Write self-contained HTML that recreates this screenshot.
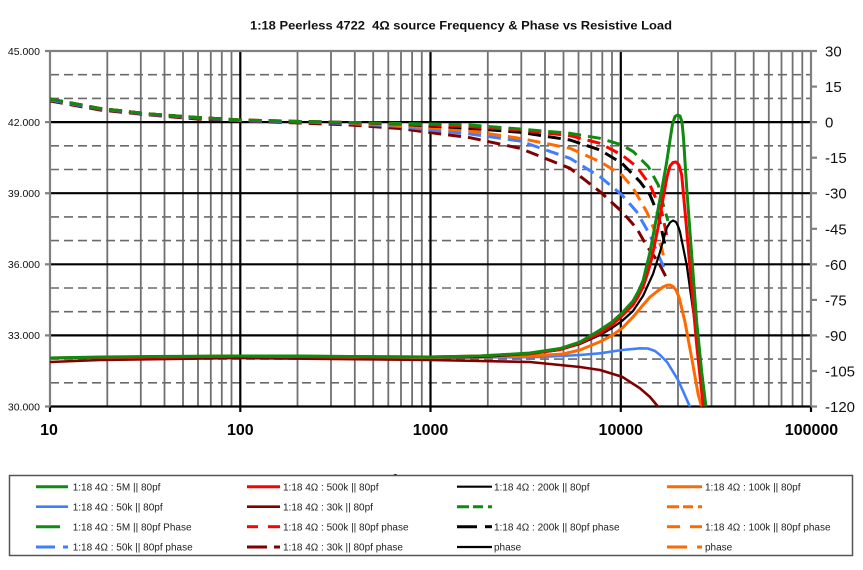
<!DOCTYPE html>
<html><head><meta charset="utf-8"><style>
html,body{margin:0;padding:0;background:#fff;}
svg{display:block;}
text{font-family:"Liberation Sans",Arial,sans-serif;}
</style></head><body>
<svg width="863" height="570" viewBox="0 0 863 570" xmlns="http://www.w3.org/2000/svg">
<rect x="0" y="0" width="863" height="570" fill="#fff"/>
<text x="461" y="29.5" font-size="12" font-weight="bold" text-anchor="middle" fill="#111" textLength="422" lengthAdjust="spacingAndGlyphs">1:18 Peerless 4722&#160;&#160;4Ω source Frequency &amp; Phase vs Resistive Load</text>

<!-- horizontal dashed gridlines -->
<g stroke="#6a6a6a" stroke-width="1.6" stroke-dasharray="9 5" fill="none">
<line x1="50" y1="74.7" x2="811" y2="74.7"/><line x1="50" y1="98.4" x2="811" y2="98.4"/>
<line x1="50" y1="145.8" x2="811" y2="145.8"/><line x1="50" y1="169.5" x2="811" y2="169.5"/>
<line x1="50" y1="216.9" x2="811" y2="216.9"/><line x1="50" y1="240.6" x2="811" y2="240.6"/>
<line x1="50" y1="288.0" x2="811" y2="288.0"/><line x1="50" y1="311.7" x2="811" y2="311.7"/>
<line x1="50" y1="359.1" x2="811" y2="359.1"/><line x1="50" y1="382.8" x2="811" y2="382.8"/>
</g>
<!-- vertical minor gridlines -->
<g stroke="#707070" stroke-width="1.8">
<line x1="107.3" y1="51" x2="107.3" y2="406.5"/><line x1="140.8" y1="51" x2="140.8" y2="406.5"/><line x1="164.5" y1="51" x2="164.5" y2="406.5"/><line x1="183" y1="51" x2="183" y2="406.5"/><line x1="198" y1="51" x2="198" y2="406.5"/><line x1="210.8" y1="51" x2="210.8" y2="406.5"/><line x1="221.8" y1="51" x2="221.8" y2="406.5"/><line x1="231.5" y1="51" x2="231.5" y2="406.5"/>
<line x1="297.5" y1="51" x2="297.5" y2="406.5"/><line x1="331" y1="51" x2="331" y2="406.5"/><line x1="354.8" y1="51" x2="354.8" y2="406.5"/><line x1="373.2" y1="51" x2="373.2" y2="406.5"/><line x1="388.3" y1="51" x2="388.3" y2="406.5"/><line x1="401" y1="51" x2="401" y2="406.5"/><line x1="412.1" y1="51" x2="412.1" y2="406.5"/><line x1="421.8" y1="51" x2="421.8" y2="406.5"/>
<line x1="487.8" y1="51" x2="487.8" y2="406.5"/><line x1="521.3" y1="51" x2="521.3" y2="406.5"/><line x1="545" y1="51" x2="545" y2="406.5"/><line x1="563.5" y1="51" x2="563.5" y2="406.5"/><line x1="578.5" y1="51" x2="578.5" y2="406.5"/><line x1="591.3" y1="51" x2="591.3" y2="406.5"/><line x1="602.3" y1="51" x2="602.3" y2="406.5"/><line x1="612" y1="51" x2="612" y2="406.5"/>
<line x1="678" y1="51" x2="678" y2="406.5"/><line x1="711.5" y1="51" x2="711.5" y2="406.5"/><line x1="735.3" y1="51" x2="735.3" y2="406.5"/><line x1="753.7" y1="51" x2="753.7" y2="406.5"/><line x1="768.8" y1="51" x2="768.8" y2="406.5"/><line x1="781.5" y1="51" x2="781.5" y2="406.5"/><line x1="792.6" y1="51" x2="792.6" y2="406.5"/><line x1="802.3" y1="51" x2="802.3" y2="406.5"/>
</g>
<!-- major lines -->
<g stroke="#000" stroke-width="2.2">
<line x1="240.3" y1="51" x2="240.3" y2="412"/><line x1="430.5" y1="51" x2="430.5" y2="412"/><line x1="620.8" y1="51" x2="620.8" y2="412"/>
<line x1="50" y1="122.1" x2="811" y2="122.1"/><line x1="50" y1="193.2" x2="811" y2="193.2"/><line x1="50" y1="264.3" x2="811" y2="264.3"/><line x1="50" y1="335.4" x2="811" y2="335.4"/>
<line x1="49" y1="406.5" x2="812" y2="406.5"/>
<line x1="50" y1="406.5" x2="50" y2="412"/><line x1="811" y1="406.5" x2="811" y2="412"/>
</g>
<!-- border -->
<g stroke="#808080" stroke-width="2.2" fill="none">
<line x1="50" y1="51" x2="811" y2="51"/>
<line x1="50" y1="51" x2="50" y2="406.5"/>
<line x1="811" y1="51" x2="811" y2="406.5"/>
<line x1="45" y1="51" x2="50" y2="51"/><line x1="45" y1="122.1" x2="50" y2="122.1"/><line x1="45" y1="193.2" x2="50" y2="193.2"/><line x1="45" y1="264.3" x2="50" y2="264.3"/><line x1="45" y1="335.4" x2="50" y2="335.4"/><line x1="45" y1="406.5" x2="50" y2="406.5"/>
<line x1="811" y1="51" x2="817" y2="51"/><line x1="811" y1="86.6" x2="817" y2="86.6"/><line x1="811" y1="122.1" x2="817" y2="122.1"/><line x1="811" y1="157.7" x2="817" y2="157.7"/><line x1="811" y1="193.2" x2="817" y2="193.2"/><line x1="811" y1="228.8" x2="817" y2="228.8"/><line x1="811" y1="264.3" x2="817" y2="264.3"/><line x1="811" y1="299.9" x2="817" y2="299.9"/><line x1="811" y1="335.4" x2="817" y2="335.4"/><line x1="811" y1="371" x2="817" y2="371"/><line x1="811" y1="406.5" x2="817" y2="406.5"/>
</g>

<!-- left labels -->
<g font-size="10.5" fill="#111" text-anchor="end">
<text x="40" y="54.8">45.000</text><text x="40" y="125.9">42.000</text><text x="40" y="197">39.000</text><text x="40" y="268.1">36.000</text><text x="40" y="339.2">33.000</text><text x="40" y="410.3">30.000</text>
</g>
<!-- right labels -->
<g font-size="15" fill="#111">
<text x="825" y="56.5">30</text><text x="825" y="92.1">15</text><text x="825" y="127.6">0</text><text x="825" y="163.2">-15</text><text x="825" y="198.7">-30</text><text x="825" y="234.3">-45</text><text x="825" y="269.8">-60</text><text x="825" y="305.4">-75</text><text x="825" y="340.9">-90</text><text x="825" y="376.5">-105</text><text x="825" y="412">-120</text>
</g>
<!-- x labels -->
<g font-size="16" font-weight="bold" fill="#000" text-anchor="middle">
<text x="49" y="435">10</text><text x="240.3" y="435">100</text><text x="430.5" y="435">1000</text><text x="620.8" y="435">10000</text><text x="811.5" y="435">100000</text>
</g>

<defs><clipPath id="pc"><rect x="50" y="51" width="761" height="355.5"/></clipPath></defs>
<g clip-path="url(#pc)" fill="none" stroke-linejoin="round">
<!-- phase (dashed) -->
<g stroke-width="3" stroke-dasharray="13 7">
<polyline stroke="#800000" points="50,101 100,110 150,115 197,119 240,121 300,123 350,125 400,128.5 430,132.5 470,137.7 520,148.3 570,168.3 600,191.7 622,211.7 636.7,228.3 646.7,246 658.3,262 666.7,278.3"/>
<polyline stroke="#3f7fff" points="50,100 100,109 150,114.5 197,118 240,120.5 300,122 350,123.5 400,126.5 430,130 470,134 520,141 570,158.3 600,176.7 622,195 636.7,211.7 650,235 658.3,255 666.7,273.3"/>
<polyline stroke="#ff6a00" points="50,99 100,108.5 150,114 197,117.5 240,120 300,121.5 350,123 400,125.5 430,128 470,131 520,138.3 570,148.3 600,161.7 622,175 633,188 646.7,211.7 655,231.7 661.7,248.3 663.5,256"/>
<polyline stroke="#000" points="50,99 100,108.5 150,114 197,117.5 240,120 300,121.5 350,122.5 400,124 430,126 470,128.3 520,132.3 570,140 600,150 622,163.3 640,181.7 650,195 658.3,215 665,245"/>
<polyline stroke="#ff0000" points="50,99 100,108.5 150,114 197,117.5 240,120 300,121.5 350,122.5 400,124 430,125 470,126.7 520,130 570,135.7 600,143.3 622,155 636.7,166.7 650,185 661.7,211.7 666.7,235"/>
<polyline stroke="#108a10" points="50,99 100,108.5 150,114 197,117.5 240,120 300,121.5 350,122.5 400,123.5 430,124 470,125 520,129 570,133.3 600,138.3 622,145 633.3,151.7 648.3,166.7 658.3,185 663.3,205 668,221"/>
</g>
<!-- magnitude (solid) -->
<g stroke-linecap="round">
<polyline stroke="#800000" stroke-width="2.6" points="50,362 100,360 240,358 430,360 480,361 530,362 560,365 580,367 600,370 622,376.7 640,388.3 650,397 658.3,407 662,412"/>
<polyline stroke="#3f7fff" stroke-width="2.6" points="50,358 240,356 430,357.5 480,357.5 540,357 580,355 600,353.3 622,350 640,348.3 648,348.5 655,351 660,355 667,362 673,371.7 678,380 683.3,391.7 690,407 692,413"/>
<polyline stroke="#ff6a00" stroke-width="3" points="50,358 240,356 430,357.5 480,357 530,356 563,354 580,350 600,341.7 612,335.5 622,328.3 633,317 643,305 650,297 657,291.5 663,287 667,285.3 670,285 673,286.5 676,290 679,297 685,322 691.7,358 698.3,395 701.7,407 703,415"/>
<polyline stroke="#000" stroke-width="2.2" points="50,358 240,356 430,357.5 480,357 530,354 560,350 580,344 600,335 612,328 622,321 633,311 643,296 653,274 660,252 666.7,228 670,222.5 673,220.5 676,222 678,226 680,231.7 686.7,265 693.3,312 700,365 705,407 707,425"/>
<polyline stroke="#ff0000" stroke-width="3" points="50,358 240,356 430,357 480,356 530,353.5 560,349.5 580,343 600,333 612,325 622,316 633,305 638,297 643,287 648,272 652,257 658,228 663,199 667,177 670,166 673,162.5 676,162 679,165 681.7,175 686,222 691.7,288 696.7,345 703.3,407 705,420"/>
<polyline stroke="#108a10" stroke-width="3" points="50,358 100,357 150,356.5 240,356 300,356 350,356.5 430,357 480,356 530,353 560,348.5 580,342 600,330 612,322 622,313 633,301 638,292 643,281 650,252 656,220 661.7,190 666.7,162 670,140 672.5,124 675,116.5 677.5,115 680,116 682,122 683.5,138 686.7,188 691.7,255 696.7,322 701.7,372 706,407 708,425"/>
</g>
</g>

<!-- hidden axis title peeking -->
<text x="392" y="484" font-size="14" font-weight="bold" fill="#000">f</text>

<!-- legend -->
<rect x="9.5" y="475.5" width="843" height="80" fill="#fff" stroke="#555" stroke-width="1.5"/>
<g fill="none" stroke-width="3">
<line x1="36" y1="486.7" x2="68" y2="486.7" stroke="#108a10"/>
<line x1="247" y1="486.7" x2="280" y2="486.7" stroke="#ff0000"/>
<line x1="457" y1="486.7" x2="492" y2="486.7" stroke="#000" stroke-width="2.2"/>
<line x1="667" y1="486.7" x2="702" y2="486.7" stroke="#ff6a00"/>
<line x1="36" y1="506.7" x2="68" y2="506.7" stroke="#3f7fff" stroke-width="2.6"/>
<line x1="247" y1="506.7" x2="280" y2="506.7" stroke="#800000" stroke-width="2.6"/>
<line x1="457" y1="506.7" x2="492" y2="506.7" stroke="#108a10" stroke-dasharray="12 4 10 5 5 20"/>
<line x1="667" y1="506.7" x2="702" y2="506.7" stroke="#ff6a00" stroke-dasharray="12 4 10 5 5 20"/>
<line x1="36" y1="526.7" x2="60" y2="526.7" stroke="#108a10"/>
<line x1="247" y1="526.7" x2="258" y2="526.7" stroke="#ff0000"/><line x1="268" y1="526.7" x2="280" y2="526.7" stroke="#ff0000"/>
<line x1="457" y1="526.7" x2="477" y2="526.7" stroke="#000"/><line x1="485" y1="526.7" x2="492" y2="526.7" stroke="#000"/>
<line x1="667" y1="526.7" x2="680" y2="526.7" stroke="#ff6a00"/><line x1="690" y1="526.7" x2="702" y2="526.7" stroke="#ff6a00"/>
<line x1="36" y1="547" x2="55" y2="547" stroke="#3f7fff"/><line x1="63" y1="547" x2="68" y2="547" stroke="#3f7fff"/>
<line x1="247" y1="547" x2="267" y2="547" stroke="#800000"/><line x1="274" y1="547" x2="280" y2="547" stroke="#800000"/>
<line x1="457" y1="547" x2="492" y2="547" stroke="#000" stroke-width="2.2"/>
<line x1="667" y1="547" x2="687" y2="547" stroke="#ff6a00"/><line x1="697" y1="547" x2="702" y2="547" stroke="#ff6a00"/>
</g>
<g font-size="10" fill="#222">
<text x="72.7" y="490.3">1:18 4Ω : 5M || 80pf</text>
<text x="283" y="490.3">1:18 4Ω : 500k || 80pf</text>
<text x="494" y="490.3">1:18 4Ω : 200k || 80pf</text>
<text x="705" y="490.3">1:18 4Ω : 100k || 80pf</text>
<text x="72.7" y="510.3">1:18 4Ω : 50k || 80pf</text>
<text x="283" y="510.3">1:18 4Ω : 30k || 80pf</text>
<text x="72.7" y="530.3">1:18 4Ω : 5M || 80pf Phase</text>
<text x="283" y="530.3">1:18 4Ω : 500k || 80pf phase</text>
<text x="494" y="530.3">1:18 4Ω : 200k || 80pf phase</text>
<text x="705" y="530.3">1:18 4Ω : 100k || 80pf phase</text>
<text x="72.7" y="550.6">1:18 4Ω : 50k || 80pf phase</text>
<text x="283" y="550.6">1:18 4Ω : 30k || 80pf phase</text>
<text x="494" y="550.6">phase</text>
<text x="705" y="550.6">phase</text>
</g>
</svg>
</body></html>
